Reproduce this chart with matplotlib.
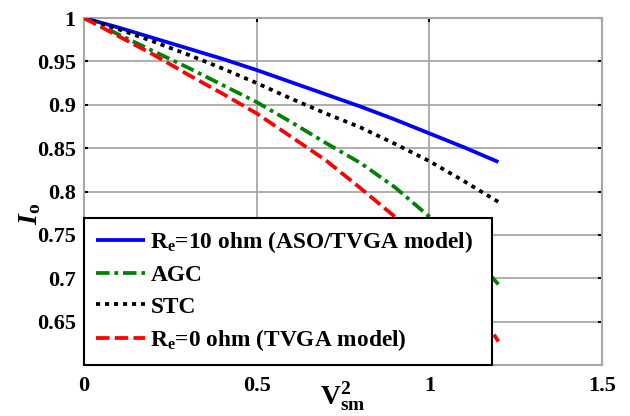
import matplotlib
matplotlib.use("Agg")
import matplotlib.pyplot as plt
import numpy as np

x = [0.0, 0.1, 0.2, 0.3, 0.4, 0.5, 0.6, 0.7, 0.8, 0.9, 1.0, 1.1, 1.2]
io_re10 = [1.0, 0.989, 0.977, 0.965, 0.953, 0.940, 0.926, 0.912, 0.898, 0.883, 0.867, 0.851, 0.834]
io_agc = [1.0, 0.981, 0.962, 0.943, 0.923, 0.903, 0.880, 0.856, 0.833, 0.805, 0.771, 0.737, 0.693]
io_stc = [1.0, 0.987, 0.973, 0.958, 0.942, 0.925, 0.907, 0.890, 0.874, 0.855, 0.835, 0.812, 0.788]
io_re0 = [1.0, 0.979, 0.958, 0.935, 0.913, 0.890, 0.863, 0.836, 0.804, 0.771, 0.735, 0.690, 0.627]

labels = [r'R$_\mathrm{e}$=10 ohm (ASO/TVGA model)', 'AGC', 'STC', r'R$_\mathrm{e}$=0 ohm (TVGA model)']
xticks = [0, 0.5, 1, 1.5]
yticks = [0.65, 0.7, 0.75, 0.8, 0.85, 0.9, 0.95, 1.0]

plt.rcParams['font.family'] = ['Liberation Serif', 'DejaVu Serif']
plt.rcParams['font.weight'] = 'bold'
plt.rcParams['mathtext.fontset'] = 'custom'
plt.rcParams['mathtext.rm'] = 'Liberation Serif:bold'
plt.rcParams['mathtext.bf'] = 'Liberation Serif:bold'
plt.rcParams['mathtext.it'] = 'Liberation Serif:bold:italic'

FS = 16
LFS = 16.8
fig = plt.figure(figsize=(6.3, 4.16), dpi=100)
ax = fig.add_axes([84/630, 1-365/416, 518/630, 347/416])

lw = 2.7
ax.plot(x, io_re10, color='#0000ff', lw=lw, solid_capstyle='butt', label=labels[0], zorder=3)
ax.plot(x, io_agc, color='#008000', lw=lw, dashes=(3.6, 1.3, 1.0, 1.3), label=labels[1], zorder=3)
ax.plot(x, io_stc, color='black', lw=lw, dashes=(1.1, 1.3), label=labels[2], zorder=3)
ax.plot(x, io_re0, color='#ff0000', lw=lw, dashes=(3.6, 1.4), label=labels[3], zorder=3)

ax.set_xlim(0, 1.5)
ax.set_ylim(0.6, 1.0)
ax.set_xticks(xticks)
ax.set_xticklabels(['%g' % v for v in xticks])
ax.set_yticks(yticks)
ax.set_yticklabels(['%g' % v for v in yticks])
ax.grid(True, color='#a8a8a8', lw=1.3)
for s in ax.spines.values():
    s.set_color('#a8a8a8')
    s.set_linewidth(1.5)
ax.tick_params(direction='in', length=3, width=1.5, color='black', labelsize=FS,
               top=True, right=True)
ax.tick_params(axis='x', pad=8)
ax.tick_params(axis='y', pad=6)
for lab in ax.get_xticklabels() + ax.get_yticklabels():
    lab.set_fontweight('bold')

ax.set_xlabel(r'$\mathrm{V}_\mathrm{sm}^\mathrm{2}$', fontsize=FS + 4)
ax.xaxis.set_label_coords(0.5, -0.042)
ax.xaxis.label.set_va('top')
ax.set_ylabel(r'$\mathit{I}_\mathrm{o}$', fontsize=FS + 4)
ax.yaxis.set_label_coords(-0.079, 0.435)

leg = ax.legend(loc='lower left', bbox_to_anchor=(0, 0, 408/518, 0.4), borderaxespad=0,
                mode='expand',
                fontsize=LFS, frameon=True, fancybox=False, handlelength=2.1,
                handletextpad=0.25, labelspacing=0.42, borderpad=0.5)
leg.get_frame().set_edgecolor('black')
leg.get_frame().set_linewidth(1.5)
leg.get_frame().set_alpha(1)
leg.set_zorder(5)

fig.savefig('out.png', dpi=100, facecolor='white')
